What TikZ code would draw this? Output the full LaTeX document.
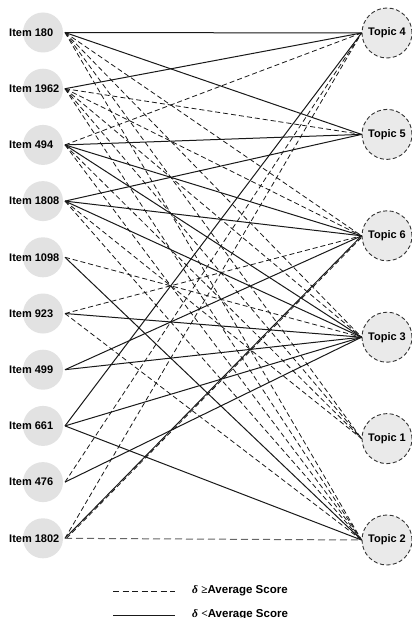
\documentclass[tikz,border=0pt]{standalone}
\usepackage{fontspec}
\setmainfont{Liberation Sans}
\newfontfamily\symserif{Liberation Serif}
\begin{document}
\begin{tikzpicture}[x=1pt,y=-1pt,
  itembg/.style={circle, fill=itemgray, minimum size=40pt, inner sep=0pt},
  itemtxt/.style={anchor=west, inner sep=0pt, font=\bfseries\fontsize{11}{13}\selectfont},
  topic/.style={circle, draw=black!80, fill=topicgray, line width=0.9pt,
    dash pattern=on 4pt off 2.5pt, minimum size=50pt, inner sep=0pt,
    font=\bfseries\fontsize{11}{13}\selectfont},
  lowlink/.style={line width=1pt, draw=black!90},
  highlink/.style={line width=0.8pt, draw=black!90, dash pattern=on 5pt off 3pt},
  flatlink/.style={line width=1pt, draw=black!60, dash pattern=on 7pt off 4pt},
  legtxt/.style={anchor=west, inner sep=0pt, font=\bfseries\fontsize{11.5}{13}\selectfont}]
\definecolor{itemgray}{HTML}{E2E2E2}
\definecolor{topicgray}{HTML}{EAEAEA}
\clip (0,0) rectangle (412,618);
\fill[white] (0,0) rectangle (412,618);

% items on the left
\foreach \n/\k in {180/0,1962/1,494/2,1808/3,1098/4,923/5,499/6,661/7,476/8,1802/9}{
  \node[itembg] (c\n) at (43,{32.5+56.2*\k}) {};
  \node[itemtxt] (l\n) at (9,{32.5+56.2*\k}) {Item \n};
  \coordinate (a\n) at (65,{32.5+56.2*\k});
}

% topics on the right
\foreach \n/\k in {4/0,5/1,6/2,3/3,1/4,2/5}{
  \node[topic] (t\n) at (387,{33+101.4*\k}) {Topic \n};
}

% links with score below average
\foreach \i/\t in {180/4,180/5,1962/4,494/5,494/6,494/3,1808/5,1808/6,1808/3,
  1098/2,923/3,499/6,499/3,661/4,661/3,661/2,476/3,1802/6}{
  \draw[lowlink] (a\i) -- (t\t.west);
}

% links with score at or above average
\foreach \i/\t in {180/6,180/3,180/1,180/2,1962/5,1962/6,1962/3,1962/1,1962/2,
  494/4,494/1,494/2,1808/1,1808/2,1098/3,923/6,923/2,476/4,1802/4}{
  \draw[highlink] (a\i) -- (t\t.west);
}
\draw[highlink] ([xshift=1.6pt]a1802) -- ([xshift=1.6pt]t6.west);
\draw[flatlink] (a1802) -- (t2.west);

% legend
\coordinate (d1) at (113,591);
\coordinate (d2) at (175,591);
\coordinate (s1) at (113,615);
\coordinate (s2) at (175,615);
\draw[highlink, dash pattern=on 6pt off 3.5pt] (d1) -- (d2);
\draw[lowlink] (s1) -- (s2);
\node[legtxt] (lg1) at (192,591) {{\symserif\bfseries\itshape δ} {\symserif ≥}Average Score};
\node[legtxt] (lg2) at (192,615) {{\symserif\bfseries\itshape δ} {\symserif <}Average Score};
\end{tikzpicture}
\end{document}
